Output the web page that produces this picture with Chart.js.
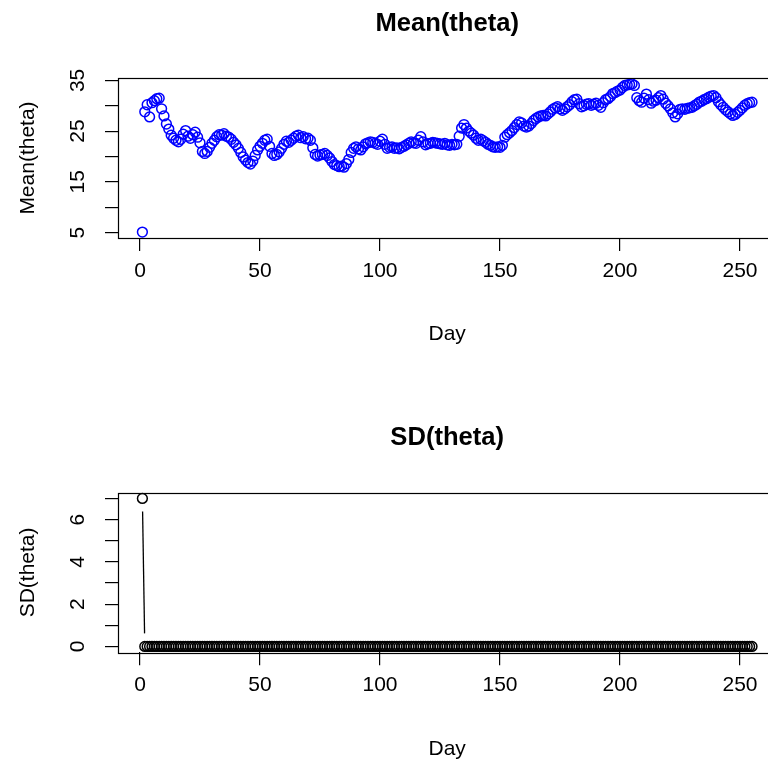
<!DOCTYPE html>
<html>
<head>
<meta charset="utf-8">
<script src="https://cdn.jsdelivr.net/npm/chart.js@4/dist/chart.umd.min.js"></script>
<style>
  html, body { margin: 0; padding: 0; background: #fff; overflow: hidden; }
  #wrap { position: relative; width: 768px; height: 769px; overflow: hidden; }
  canvas { position: absolute; left: 0; }
  #meanChart { top: 0; }
  #sdChart { top: 384px; }
</style>
</head>
<body>
<div id="wrap">
  <canvas id="meanChart" width="800" height="384"></canvas>
  <canvas id="sdChart" width="800" height="385"></canvas>
</div>
<script>
// day 1 is the first value in each series
const firstDay = 1;

const meanTheta = [
  5.1, 28.8, 30.2, 27.8, 30.6, 31.0, 31.4, 31.5, 29.4, 28.0,
  26.4, 25.4, 24.2, 23.6, 23.2, 22.9, 23.4, 24.4, 25.1, 24.0,
  23.6, 24.3, 24.8, 23.8, 22.7, 21.0, 20.6, 21.0, 21.8, 22.6,
  23.2, 23.9, 24.3, 24.2, 24.5, 24.0, 23.8, 23.4, 22.8, 22.3,
  21.6, 20.8, 19.9, 19.3, 18.8, 18.5, 19.1, 20.2, 21.3, 22.0,
  22.6, 23.2, 23.4, 22.0, 20.6, 20.2, 20.4, 20.9, 21.6, 22.4,
  23.0, 22.8, 23.2, 23.6, 24.0, 24.2, 23.7, 23.9, 23.5, 23.6,
  23.2, 21.7, 20.4, 20.1, 20.3, 20.4, 20.6, 20.2, 19.7, 19.0,
  18.4, 18.2, 18.0, 18.1, 17.9, 18.6, 19.4, 20.8, 21.6, 21.9,
  21.5, 21.3, 21.9, 22.5, 22.7, 22.9, 22.8, 22.6, 22.4, 23.0,
  23.4, 22.4, 21.6, 21.8, 21.9, 21.6, 21.7, 21.5, 21.8, 22.0,
  22.3, 22.6, 22.9, 22.7, 22.6, 23.2, 23.9, 22.9, 22.3, 22.5,
  22.6, 22.8, 22.7, 22.6, 22.5, 22.4, 22.6, 22.3, 22.2, 22.4,
  22.3, 22.4, 24.0, 25.6, 26.3, 25.6, 25.0, 24.6, 24.2, 23.6,
  23.2, 23.4, 23.1, 22.8, 22.4, 22.2, 21.9, 21.8, 21.9, 21.8,
  22.2, 23.8, 24.3, 24.7, 25.1, 25.7, 26.3, 26.8, 26.6, 26.0,
  25.8, 26.0, 26.5, 27.1, 27.5, 27.8, 28.0, 28.1, 28.0, 28.4,
  28.8, 29.3, 29.6, 29.8, 29.4, 29.1, 29.4, 29.8, 30.2, 30.8,
  31.2, 31.3, 30.4, 29.8, 30.0, 30.3, 30.4, 30.1, 30.3, 30.5,
  30.1, 29.7, 30.6, 31.2, 31.4, 31.8, 32.4, 32.6, 32.9, 33.1,
  33.6, 34.0, 34.1, 34.2, 34.3, 34.0, 31.6, 31.0, 30.7, 31.5,
  32.3, 31.2, 30.5, 30.9, 31.1, 31.6, 32.0, 31.3, 30.5, 30.0,
  29.4, 28.6, 27.8, 28.4, 29.3, 29.4, 29.3, 29.5, 29.6, 29.7,
  30.0, 30.3, 30.7, 30.9, 31.2, 31.4, 31.7, 31.9, 32.0, 31.6,
  30.8, 30.2, 29.7, 29.2, 28.8, 28.4, 28.1, 28.3, 28.7, 29.1,
  29.6, 30.1, 30.4, 30.6, 30.7
];

const sdTheta = [
  7.0, 0, 0, 0, 0, 0, 0, 0, 0, 0, 0, 0, 0, 0, 0, 0, 0, 0, 0, 0,
  0, 0, 0, 0, 0, 0, 0, 0, 0, 0, 0, 0, 0, 0, 0, 0, 0, 0, 0, 0,
  0, 0, 0, 0, 0, 0, 0, 0, 0, 0, 0, 0, 0, 0, 0, 0, 0, 0, 0, 0,
  0, 0, 0, 0, 0, 0, 0, 0, 0, 0, 0, 0, 0, 0, 0, 0, 0, 0, 0, 0,
  0, 0, 0, 0, 0, 0, 0, 0, 0, 0, 0, 0, 0, 0, 0, 0, 0, 0, 0, 0,
  0, 0, 0, 0, 0, 0, 0, 0, 0, 0, 0, 0, 0, 0, 0, 0, 0, 0, 0, 0,
  0, 0, 0, 0, 0, 0, 0, 0, 0, 0, 0, 0, 0, 0, 0, 0, 0, 0, 0, 0,
  0, 0, 0, 0, 0, 0, 0, 0, 0, 0, 0, 0, 0, 0, 0, 0, 0, 0, 0, 0,
  0, 0, 0, 0, 0, 0, 0, 0, 0, 0, 0, 0, 0, 0, 0, 0, 0, 0, 0, 0,
  0, 0, 0, 0, 0, 0, 0, 0, 0, 0, 0, 0, 0, 0, 0, 0, 0, 0, 0, 0,
  0, 0, 0, 0, 0, 0, 0, 0, 0, 0, 0, 0, 0, 0, 0, 0, 0, 0, 0, 0,
  0, 0, 0, 0, 0, 0, 0, 0, 0, 0, 0, 0, 0, 0, 0, 0, 0, 0, 0, 0,
  0, 0, 0, 0, 0, 0, 0, 0, 0, 0, 0, 0, 0, 0, 0
];

const dayTicks = [0, 50, 100, 150, 200, 250];
const meanTicks = [5, 10, 15, 20, 25, 30, 35];
const meanTickLabels = [5, 15, 25, 35];
const sdTicks = [0, 1, 2, 3, 4, 5, 6, 7];
const sdTickLabels = [0, 2, 4, 6];

const FONT = "'Liberation Sans', Arial, Helvetica, sans-serif";
Chart.defaults.font.family = FONT;
Chart.defaults.color = '#000';

// R-style axis range: data range widened by 4% each side
function rRange(vals) {
  const lo = Math.min(...vals), hi = Math.max(...vals);
  const pad = (hi - lo) * 0.04;
  return [lo - pad, hi + pad];
}

// box around the plot region, like R's box()
const boxPlugin = {
  id: 'rBox',
  afterDatasetsDraw(chart) {
    const { ctx, chartArea: a } = chart;
    ctx.save();
    ctx.strokeStyle = '#000';
    ctx.lineWidth = 1.2;
    ctx.strokeRect(Math.round(a.left) + 0.5, Math.round(a.top) + 0.5,
      Math.round(a.right - a.left), Math.round(a.bottom - a.top));
    ctx.restore();
  }
};

// type = "b": segments between points, cut short near each point
const gapLinesPlugin = {
  id: 'gapLines',
  beforeDatasetsDraw(chart) {
    chart.data.datasets.forEach((ds, di) => {
      if (!ds.gapLines) return;
      const pts = chart.getDatasetMeta(di).data;
      const ctx = chart.ctx;
      const gap = ds.gapLines;
      ctx.save();
      ctx.strokeStyle = ds.borderColor;
      ctx.lineWidth = 1.3;
      ctx.beginPath();
      for (let i = 0; i < pts.length - 1; i++) {
        const p = pts[i], q = pts[i + 1];
        const dx = q.x - p.x, dy = q.y - p.y;
        const d = Math.hypot(dx, dy);
        if (d <= 2 * gap) continue;
        const ux = dx / d, uy = dy / d;
        ctx.moveTo(p.x + ux * gap, p.y + uy * gap);
        ctx.lineTo(q.x - ux * gap, q.y - uy * gap);
      }
      ctx.stroke();
      ctx.restore();
    });
  }
};

function panel(id, title, yLabel, values, color, yTicks, yLabels, pads) {
  const days = values.map((_, i) => firstDay + i);
  const [xlo, xhi] = rRange(days);
  const [ylo, yhi] = rRange(values);
  const axisGrid = { drawOnChartArea: false, drawTicks: true, tickLength: 13, color: '#000', lineWidth: 1.2 };

  return new Chart(document.getElementById(id), {
    type: 'scatter',
    data: {
      datasets: [{
        data: values.map((v, i) => ({ x: days[i], y: v })),
        borderColor: color,
        backgroundColor: 'rgba(0,0,0,0)',
        pointRadius: 4.9,
        pointHoverRadius: 4.9,
        pointBorderWidth: 1.5,
        showLine: false,
        clip: false,
        gapLines: pads.gap
      }]
    },
    options: {
      responsive: false,
      animation: false,
      devicePixelRatio: 1,
      events: [],
      layout: { padding: { left: 0, right: 23.6, top: 0, bottom: pads.bottom } },
      plugins: {
        legend: { display: false },
        tooltip: { enabled: false },
        title: {
          display: true,
          text: title,
          fullSize: false,
          font: { size: 25.6, weight: 'bold', lineHeight: 1.2 },
          padding: { top: pads.titleTop, bottom: pads.titleBottom }
        }
      },
      scales: {
        x: {
          type: 'linear',
          min: xlo,
          max: xhi,
          afterBuildTicks: s => { s.ticks = dayTicks.map(v => ({ value: v })); },
          afterFit: s => { s.height = 110; },
          grid: axisGrid,
          border: { display: false },
          ticks: { autoSkip: false, maxRotation: 0, padding: 7.4, font: { size: 21 } },
          title: { display: true, text: 'Day', font: { size: 21, lineHeight: 1.2 }, padding: { top: 0, bottom: 0.8 } }
        },
        y: {
          type: 'linear',
          min: ylo,
          max: yhi,
          afterBuildTicks: s => { s.ticks = yTicks.map(v => ({ value: v })); },
          afterFit: s => { s.width = 118; },
          grid: axisGrid,
          border: { display: false },
          ticks: {
            autoSkip: false,
            minRotation: 90,
            maxRotation: 90,
            crossAlign: 'center',
            padding: pads.yTickPad,
            font: { size: 21 },
            callback: v => (yLabels.includes(v) ? String(v) : '')
          },
          title: { display: true, text: yLabel, font: { size: 21, lineHeight: 1.2 }, padding: { top: 15.4, bottom: 0 } }
        }
      }
    },
    plugins: [gapLinesPlugin, boxPlugin]
  });
}

panel('meanChart', 'Mean(theta)', 'Mean(theta)', meanTheta, '#0000FF', meanTicks, meanTickLabels,
  { titleTop: 8.4, titleBottom: 38.9, bottom: 36, yTickPad: 15.3, gap: 0 });

panel('sdChart', 'SD(theta)', 'SD(theta)', sdTheta, '#000000', sdTicks, sdTickLabels,
  { titleTop: 38.95, titleBottom: 38.85, bottom: 6.7, yTickPad: 21.15, gap: 13 });
</script>
</body>
</html>
